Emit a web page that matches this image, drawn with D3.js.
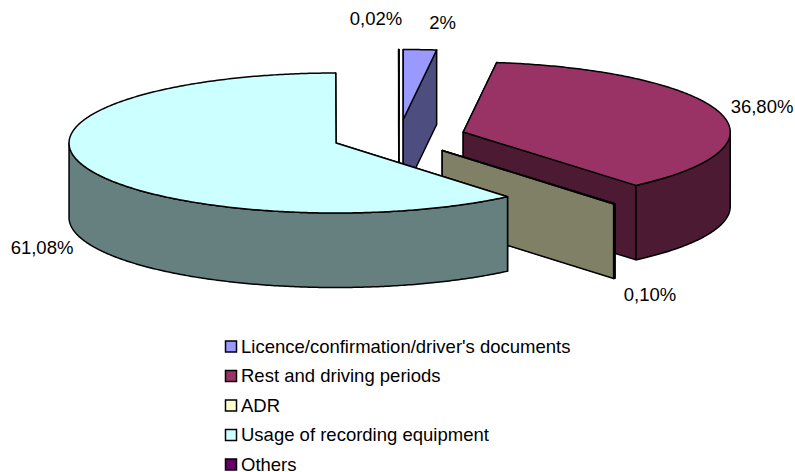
<!DOCTYPE html>
<html><head><meta charset="utf-8">
<script src="https://cdn.jsdelivr.net/npm/d3@7"></script>
<style>html,body{margin:0;padding:0;background:#fff}svg{display:block}text{font-family:"Liberation Sans",Arial,sans-serif;fill:#000}</style>
</head><body><div id="c"></div>
<script>
const categories = ["Licence/confirmation/driver's documents","Rest and driving periods","ADR","Usage of recording equipment","Others"];
const values = [2,36.8,0.1,61.08,0.02];
const valueLabels = ["2%","36,80%","0,10%","61,08%","0,02%"];
const colors = ["#9999FF","#993366","#FFFFCC","#CCFFFF","#660066"];
const sideColors = ["#4D4D80","#4D1A33","#808066","#668080","#330033"];
const drawOrder = [4,0,1,2,3];
const labelPos = [[442.5,22.5],[762,106],[650,294],[42,247],[376,18]];

const W=795,H=472,cx=399,cy=137,rx=267,ry=70,depth=74.5,explode=67;
const svg=d3.select("#c").append("svg").attr("width",W).attr("height",H);
const X=d3.scaleLinear().domain([-1,1]).range([-rx,rx]);
const Y=d3.scaleLinear().domain([-1,1]).range([ry,-ry]);
const arcs=d3.pie().sort(null).value(d=>d).startAngle(0).endAngle(2*Math.PI)(values);
const line=d3.line();
const pt=(a,ox,oy,dz=0)=>[ox+X(Math.sin(a)),oy+Y(Math.cos(a))+dz];
function arcPts(a0,a1,ox,oy,dz){
  const n=Math.max(2,Math.ceil((a1-a0)/0.01));
  return d3.range(n+1).map(i=>pt(a0+(a1-a0)*i/n,ox,oy,dz));
}
const g=svg.append("g");
const sw=1.5;
drawOrder.forEach(i=>{
  const d=arcs[i], mid=(d.startAngle+d.endAngle)/2;
  const ox=cx+X(Math.sin(mid))*explode/rx, oy=cy+Y(Math.cos(mid))*explode/rx;
  const side=sideColors[i];
  const poly=p=>g.append("path").attr("d",line(p)+"Z").attr("fill",side).attr("stroke","#000").attr("stroke-width",sw).attr("stroke-linejoin","round");
  [d.startAngle,d.endAngle].forEach(a=>{
    poly([[ox,oy],pt(a,ox,oy),pt(a,ox,oy,depth),[ox,oy+depth]]);
  });
  const a0=Math.max(d.startAngle,Math.PI/2), a1=Math.min(d.endAngle,3*Math.PI/2);
  if(a1>a0){
    poly(arcPts(a0,a1,ox,oy,0).concat(arcPts(a0,a1,ox,oy,depth).reverse()));
  }
  g.append("path").attr("d",line([[ox,oy]].concat(arcPts(d.startAngle,d.endAngle,ox,oy,0)))+"Z")
    .attr("fill",colors[i]).attr("stroke","#000").attr("stroke-width",sw).attr("stroke-linejoin","round");
});
svg.append("g").selectAll("text").data(valueLabels).join("text")
  .attr("x",(d,i)=>labelPos[i][0]).attr("y",(d,i)=>labelPos[i][1])
  .attr("text-anchor","middle").attr("dominant-baseline","central")
  .attr("font-size",18.5).text(d=>d);
const ly=d3.scalePoint().domain(categories).range([346,464]);
const lg=svg.append("g").selectAll("g").data(categories).join("g").attr("transform",d=>`translate(225.5,${ly(d)})`);
lg.append("rect").attr("x",0).attr("y",-5).attr("width",11).attr("height",11)
  .attr("fill",(d,i)=>colors[i]).attr("stroke","#000").attr("stroke-width",1.5);
lg.append("text").attr("x",15.5).attr("y",0).attr("dominant-baseline","central").attr("font-size",18.5).text(d=>d);
</script></body></html>
